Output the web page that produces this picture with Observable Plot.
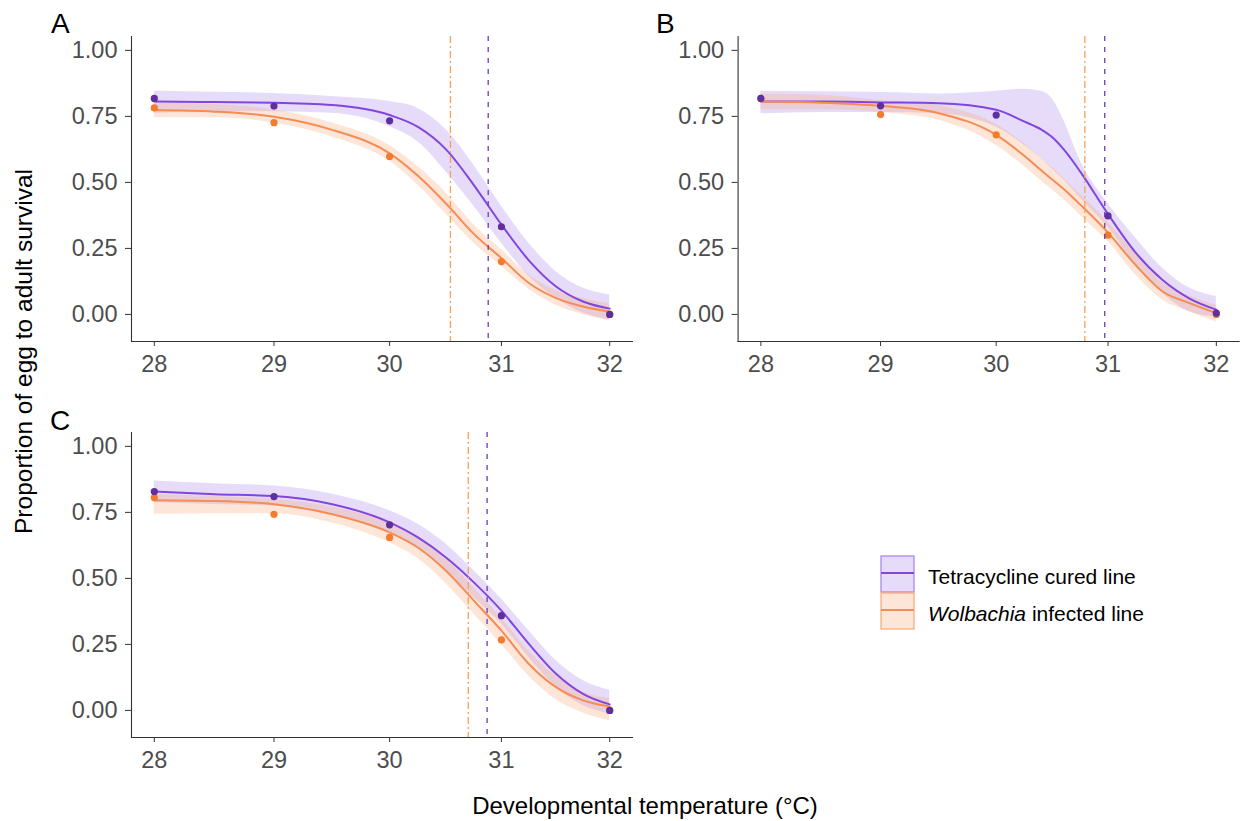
<!DOCTYPE html>
<html>
<head>
<meta charset="utf-8">
<script src="https://cdn.jsdelivr.net/npm/d3@7"></script>
<script src="https://cdn.jsdelivr.net/npm/@observablehq/plot@0.6"></script>
<style>
  html, body { margin: 0; padding: 0; background: #ffffff; }
  #wrap { position: relative; width: 1241px; height: 821px; overflow: hidden; background: #fff;
          font-family: "Liberation Sans", Arial, sans-serif; }
  .panel { position: absolute; }
  #overlay { position: absolute; left: 0; top: 0; }
</style>
</head>
<body>
<div id="wrap">
  <div class="panel" id="pA" style="left:0px;top:0px;"></div>
  <div class="panel" id="pB" style="left:610px;top:0px;"></div>
  <div class="panel" id="pC" style="left:0px;top:396px;"></div>
</div>
<script>
// ---------- data ----------
const temps = [28, 29, 30, 31, 32];
const fitTemps = [28, 28.5, 29, 29.5, 30, 30.25, 30.5, 30.75, 31, 31.25, 31.5, 31.75, 32];
const B_fitTemps = [28, 28.5, 29, 29.5, 30, 30.25, 30.4, 30.5, 30.6, 30.75, 31, 31.25, 31.5, 31.75, 32];
const xTicks = [28, 29, 30, 31, 32];
const yTicks = [0, 0.25, 0.5, 0.75, 1];
const seriesNames = ["Tetracycline cured line", "Wolbachia infected line"];

// Panel A
const A_tetObs = [0.818, 0.789, 0.733, 0.332, 0.0];
const A_wolObs = [0.782, 0.726, 0.598, 0.200, 0.0];
const A_tetFit = [0.806, 0.804, 0.802, 0.793, 0.755, 0.710, 0.625, 0.490, 0.340, 0.205, 0.106, 0.049, 0.022];
const A_tetLo  = [0.762, 0.768, 0.768, 0.762, 0.711, 0.654, 0.540, 0.410, 0.270, 0.145, 0.062, 0.005, -0.020];
const A_tetHi  = [0.846, 0.841, 0.837, 0.825, 0.806, 0.780, 0.700, 0.565, 0.410, 0.270, 0.163, 0.100, 0.074];
const A_wolFit = [0.774, 0.768, 0.749, 0.699, 0.610, 0.525, 0.420, 0.305, 0.213, 0.119, 0.062, 0.030, 0.011];
const A_wolLo  = [0.745, 0.745, 0.725, 0.672, 0.580, 0.490, 0.380, 0.270, 0.183, 0.095, 0.035, 0.000, -0.025];
const A_wolHi  = [0.800, 0.795, 0.775, 0.725, 0.640, 0.560, 0.460, 0.340, 0.245, 0.150, 0.090, 0.060, 0.040];
const A_vTet = 30.88, A_vWol = 30.54;

// Panel B (values at B_fitTemps)
const B_tetObs = [0.818, 0.790, 0.755, 0.373, 0.005];
const B_wolObs = [0.818, 0.757, 0.680, 0.300, 0.0];
const B_tetFit = [0.806, 0.806, 0.803, 0.800, 0.775, 0.730, 0.700, 0.670, 0.625, 0.540, 0.380, 0.235, 0.130, 0.060, 0.018];
const B_tetLo  = [0.760, 0.765, 0.765, 0.760, 0.710, 0.640, 0.590, 0.550, 0.510, 0.440, 0.330, 0.190, 0.080, 0.010, -0.010];
const B_tetHi  = [0.845, 0.843, 0.840, 0.835, 0.845, 0.853, 0.845, 0.815, 0.735, 0.580, 0.420, 0.290, 0.175, 0.100, 0.068];
const B_wolFit = [0.806, 0.802, 0.790, 0.762, 0.680, 0.600, 0.545, 0.510, 0.475, 0.415, 0.310, 0.188, 0.087, 0.043, 0.005];
const B_wolLo  = [0.775, 0.775, 0.765, 0.735, 0.640, 0.560, 0.505, 0.470, 0.435, 0.375, 0.275, 0.150, 0.055, 0.010, -0.030];
const B_wolHi  = [0.835, 0.830, 0.810, 0.790, 0.720, 0.645, 0.590, 0.555, 0.515, 0.455, 0.350, 0.230, 0.120, 0.070, 0.035];
const B_vTet = 30.97, B_vWol = 30.79;

// Panel C
const C_tetObs = [0.829, 0.810, 0.703, 0.359, 0.0];
const C_wolObs = [0.806, 0.743, 0.655, 0.267, 0.0];
const C_tetFit = [0.829, 0.819, 0.812, 0.781, 0.712, 0.655, 0.579, 0.485, 0.378, 0.252, 0.139, 0.063, 0.023];
const C_tetLo  = [0.787, 0.780, 0.775, 0.743, 0.674, 0.611, 0.529, 0.428, 0.327, 0.200, 0.088, 0.019, -0.013];
const C_tetHi  = [0.869, 0.858, 0.850, 0.819, 0.756, 0.705, 0.630, 0.529, 0.422, 0.302, 0.189, 0.113, 0.076];
const C_wolFit = [0.796, 0.793, 0.781, 0.743, 0.674, 0.617, 0.529, 0.416, 0.302, 0.176, 0.088, 0.038, 0.015];
const C_wolLo  = [0.743, 0.745, 0.745, 0.710, 0.635, 0.575, 0.480, 0.365, 0.250, 0.130, 0.040, -0.010, -0.040];
const C_wolHi  = [0.819, 0.810, 0.800, 0.770, 0.710, 0.660, 0.575, 0.465, 0.350, 0.225, 0.130, 0.070, 0.045];
const C_vTet = 30.87, C_vWol = 30.70;

// ---------- styles ----------
const col = {
  tetLine: "#8346DC", tetPoint: "#5F2E9F", tetFill: "#9D78EA", tetV: "#6A3DB4",
  wolLine: "#F68C55", wolPoint: "#F47B2C", wolFill: "#F99F68", wolV: "#F8A052"
};
const xDomain = [27.8135, 32.2145];
const yDomain = [-0.1025, 1.0525];
const FONT = "'Liberation Sans', Arial, sans-serif";

function fitTable(ts, fit, lo, hi) {
  return ts.map((t, i) => ({t, fit: fit[i], lo: lo[i], hi: hi[i]}));
}
function obsTable(v) {
  return temps.map((t, i) => ({t, v: v[i]}));
}

function panel(id, d, opt) {
  const tetF = fitTable(d.ts, d.tetFit, d.tetLo, d.tetHi);
  const wolF = fitTable(d.ts, d.wolFit, d.wolLo, d.wolHi);
  const tetO = obsTable(d.tetObs);
  const wolO = obsTable(d.wolObs);
  const chart = Plot.plot({
    width: opt.width, height: 390,
    marginLeft: opt.ml, marginRight: opt.mr, marginTop: 36, marginBottom: 49,
    style: {fontFamily: FONT, fontSize: "23.5px", color: "#4D4D4D", background: "transparent", overflow: "visible"},
    x: {type: "log", domain: xDomain, label: null},
    y: {domain: yDomain, label: null},
    marks: [
      Plot.areaY(tetF, {x: "t", y1: "lo", y2: "hi", fill: col.tetFill, fillOpacity: 0.26, curve: "monotone-x"}),
      Plot.areaY(wolF, {x: "t", y1: "lo", y2: "hi", fill: col.wolFill, fillOpacity: 0.26, curve: "monotone-x"}),
      Plot.line(tetF, {x: "t", y: "fit", stroke: col.tetLine, strokeWidth: 2, curve: "monotone-x"}),
      Plot.line(wolF, {x: "t", y: "fit", stroke: col.wolLine, strokeWidth: 2, curve: "monotone-x"}),
      Plot.dot(wolO, {x: "t", y: "v", r: 3.6, fill: col.wolPoint, stroke: "none"}),
      Plot.dot(tetO, {x: "t", y: "v", r: 3.6, fill: col.tetPoint, stroke: "none"}),
      Plot.ruleX([d.vWol], {stroke: col.wolV, strokeWidth: 1.3, strokeDasharray: "7,3,2,3"}),
      Plot.ruleX([d.vTet], {stroke: col.tetV, strokeWidth: 1.3, strokeDasharray: "5,6"}),
      Plot.axisX({ticks: xTicks, tickFormat: d => String(d), tickSize: 5, tickPadding: 9, stroke: "#333333", fill: "#4D4D4D", label: null}),
      Plot.axisY({ticks: yTicks, tickFormat: d3.format(".2f"), tickSize: 6, tickPadding: 8, stroke: "#333333", fill: "#4D4D4D", label: null}),
      Plot.frame({anchor: "left", stroke: "#333333", strokeWidth: 1.1}),
      Plot.frame({anchor: "bottom", stroke: "#333333", strokeWidth: 1.1})
    ]
  });
  document.getElementById(id).appendChild(chart);
}

panel("pA", {ts: fitTemps, tetObs: A_tetObs, wolObs: A_wolObs, tetFit: A_tetFit, tetLo: A_tetLo, tetHi: A_tetHi,
             wolFit: A_wolFit, wolLo: A_wolLo, wolHi: A_wolHi, vTet: A_vTet, vWol: A_vWol},
      {width: 640, ml: 131, mr: 8});
panel("pB", {ts: B_fitTemps, tetObs: B_tetObs, wolObs: B_wolObs, tetFit: B_tetFit, tetLo: B_tetLo, tetHi: B_tetHi,
             wolFit: B_wolFit, wolLo: B_wolLo, wolHi: B_wolHi, vTet: B_vTet, vWol: B_vWol},
      {width: 631, ml: 127.6, mr: 2.4});
panel("pC", {ts: fitTemps, tetObs: C_tetObs, wolObs: C_wolObs, tetFit: C_tetFit, tetLo: C_tetLo, tetHi: C_tetHi,
             wolFit: C_wolFit, wolLo: C_wolLo, wolHi: C_wolHi, vTet: C_vTet, vWol: C_vWol},
      {width: 640, ml: 131, mr: 8});

// ---------- titles, panel tags and legend ----------
const svg = d3.select("#wrap").append("svg")
  .attr("id", "overlay").attr("width", 1241).attr("height", 821)
  .style("font-family", FONT);

const tags = [{t: "A", x: 51, y: 33}, {t: "B", x: 656, y: 33}, {t: "C", x: 50, y: 430}];
svg.selectAll("text.tag").data(tags).join("text").attr("class", "tag")
  .attr("x", d => d.x).attr("y", d => d.y).attr("font-size", 28).attr("fill", "#000").text(d => d.t);

svg.append("text").attr("x", 645).attr("y", 814).attr("text-anchor", "middle")
  .attr("font-size", 24).attr("fill", "#000").text("Developmental temperature (°C)");
svg.append("text").attr("transform", "translate(32,351.5) rotate(-90)").attr("text-anchor", "middle")
  .attr("font-size", 24.5).attr("fill", "#000").text("Proportion of egg to adult survival");

const legend = [
  {name: seriesNames[0], fill: col.tetFill, line: col.tetLine, border: "#A57FEB", y: 556},
  {name: seriesNames[1], fill: col.wolFill, line: col.wolLine, border: "#F9A775", y: 593}
];
const lg = svg.append("g");
legend.forEach((d, i) => {
  lg.append("rect").attr("x", 881).attr("y", d.y).attr("width", 33).attr("height", 36)
    .attr("fill", d.fill).attr("fill-opacity", 0.26).attr("stroke", d.border).attr("stroke-width", 1.2);
  lg.append("line").attr("x1", 881).attr("x2", 914).attr("y1", d.y + 17).attr("y2", d.y + 17)
    .attr("stroke", d.line).attr("stroke-width", 2.2);
  const tx = lg.append("text").attr("x", 928).attr("y", d.y + 27.5).attr("font-size", 21).attr("fill", "#000");
  if (i === 1) {
    tx.append("tspan").attr("font-style", "italic").text("Wolbachia");
    tx.append("tspan").text(" infected line");
  } else {
    tx.text(d.name);
  }
});
</script>
</body>
</html>
